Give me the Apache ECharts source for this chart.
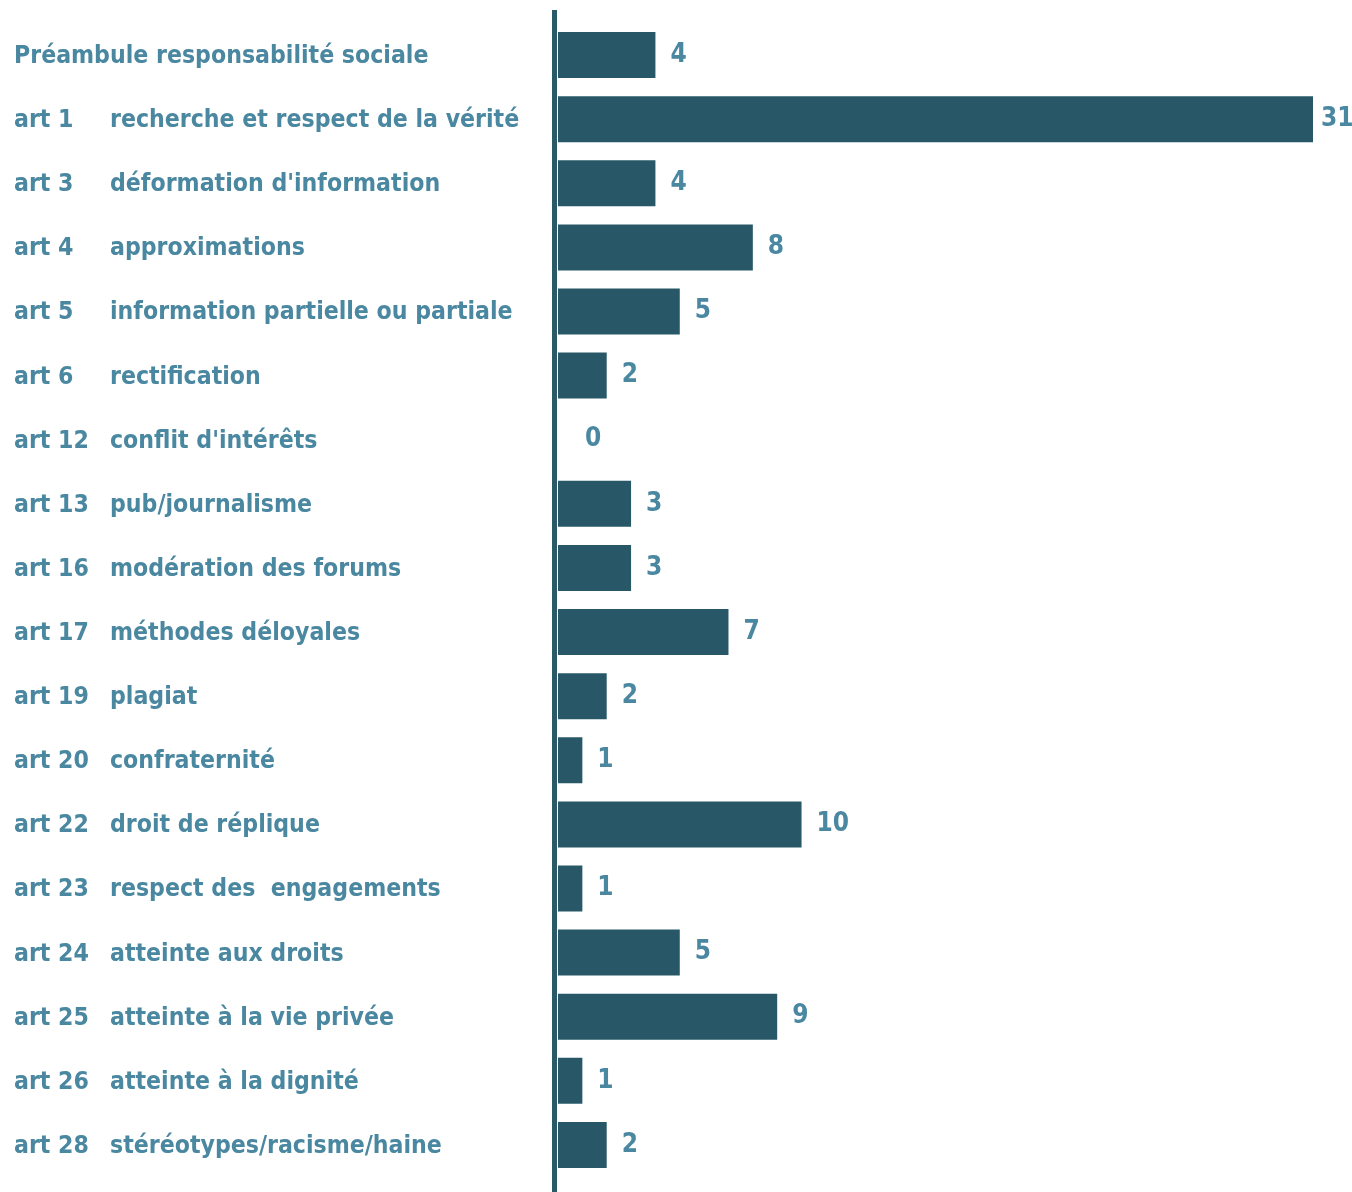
<!DOCTYPE html>
<html>
<head>
<meta charset="utf-8">
<script src="https://cdn.jsdelivr.net/npm/echarts@6/dist/echarts.min.js"></script>
<style>
  html, body { margin: 0; padding: 0; background: #ffffff; }
  #chart { width: 1352px; height: 1192px; }
</style>
</head>
<body>
<div id="chart"></div>
<script>
// Article numbers (left column) and their subjects (second column)
var articles = ['', 'art 1', 'art 3', 'art 4', 'art 5', 'art 6', 'art 12', 'art 13', 'art 16',
  'art 17', 'art 19', 'art 20', 'art 22', 'art 23', 'art 24', 'art 25', 'art 26', 'art 28'];
var subjects = ['Préambule responsabilité sociale', 'recherche et respect de la vérité',
  "déformation d'information", 'approximations', 'information partielle ou partiale',
  'rectification', "conflit d'intérêts", 'pub/journalisme', 'modération des forums',
  'méthodes déloyales', 'plagiat', 'confraternité', 'droit de réplique',
  'respect des  engagements', 'atteinte aux droits', 'atteinte à la vie privée',
  'atteinte à la dignité', 'stéréotypes/racisme/haine'];
// Number of cases per article
var counts = [4, 31, 4, 8, 5, 2, 0, 3, 3, 7, 2, 1, 10, 1, 5, 9, 1, 2];

var categories = articles.map(function (a, i) { return a + '|' + subjects[i]; });

var FONT = '"DejaVu Sans Condensed", "Liberation Sans Narrow", Roboto, sans-serif';
var LABEL_COLOR = '#4a87a0';
var BAR_COLOR = '#285868';

var chart = echarts.init(document.getElementById('chart'), null, { renderer: 'canvas' });

chart.setOption({
  backgroundColor: '#ffffff',
  animation: false,
  grid: { left: 558, right: 39, top: 23, bottom: 15, containLabel: false },
  xAxis: {
    type: 'value',
    min: 0,
    max: 31,
    show: false
  },
  yAxis: {
    type: 'category',
    inverse: true,
    data: categories,
    axisLine: { show: false },
    axisTick: { show: false },
    splitLine: { show: false },
    axisLabel: {
      align: 'left',
      margin: 544,
      formatter: function (v) {
        var parts = v.split('|');
        if (!parts[0]) return '{s|' + parts[1] + '}';
        return '{a|' + parts[0] + '}{s|' + parts[1] + '}';
      },
      rich: {
        a: { width: 96, fontFamily: FONT, fontWeight: 'bold', fontSize: 24.6, color: LABEL_COLOR, padding: [3, 0, 0, 0] },
        s: { fontFamily: FONT, fontWeight: 'bold', fontSize: 24.6, color: LABEL_COLOR, padding: [3, 0, 0, 0] }
      }
    }
  },
  graphic: [{
    type: 'rect',
    shape: { x: 552, y: 10, width: 5, height: 1182 },
    style: { fill: '#2a5a68' },
    z: 10
  }],
  series: [{
    type: 'bar',
    data: counts.map(function (v) {
      if (v === 0) return { value: v, label: { distance: 27 } };
      if (v === 31) return { value: v, label: { distance: 8 } };
      return v;
    }),
    barWidth: 46,
    barCategoryGap: 0,
    itemStyle: { color: BAR_COLOR },
    label: {
      show: true,
      position: 'right',
      distance: 15,
      fontFamily: FONT,
      fontWeight: 'bold',
      fontSize: 26,
      color: LABEL_COLOR
    }
  }]
});
</script>
</body>
</html>
